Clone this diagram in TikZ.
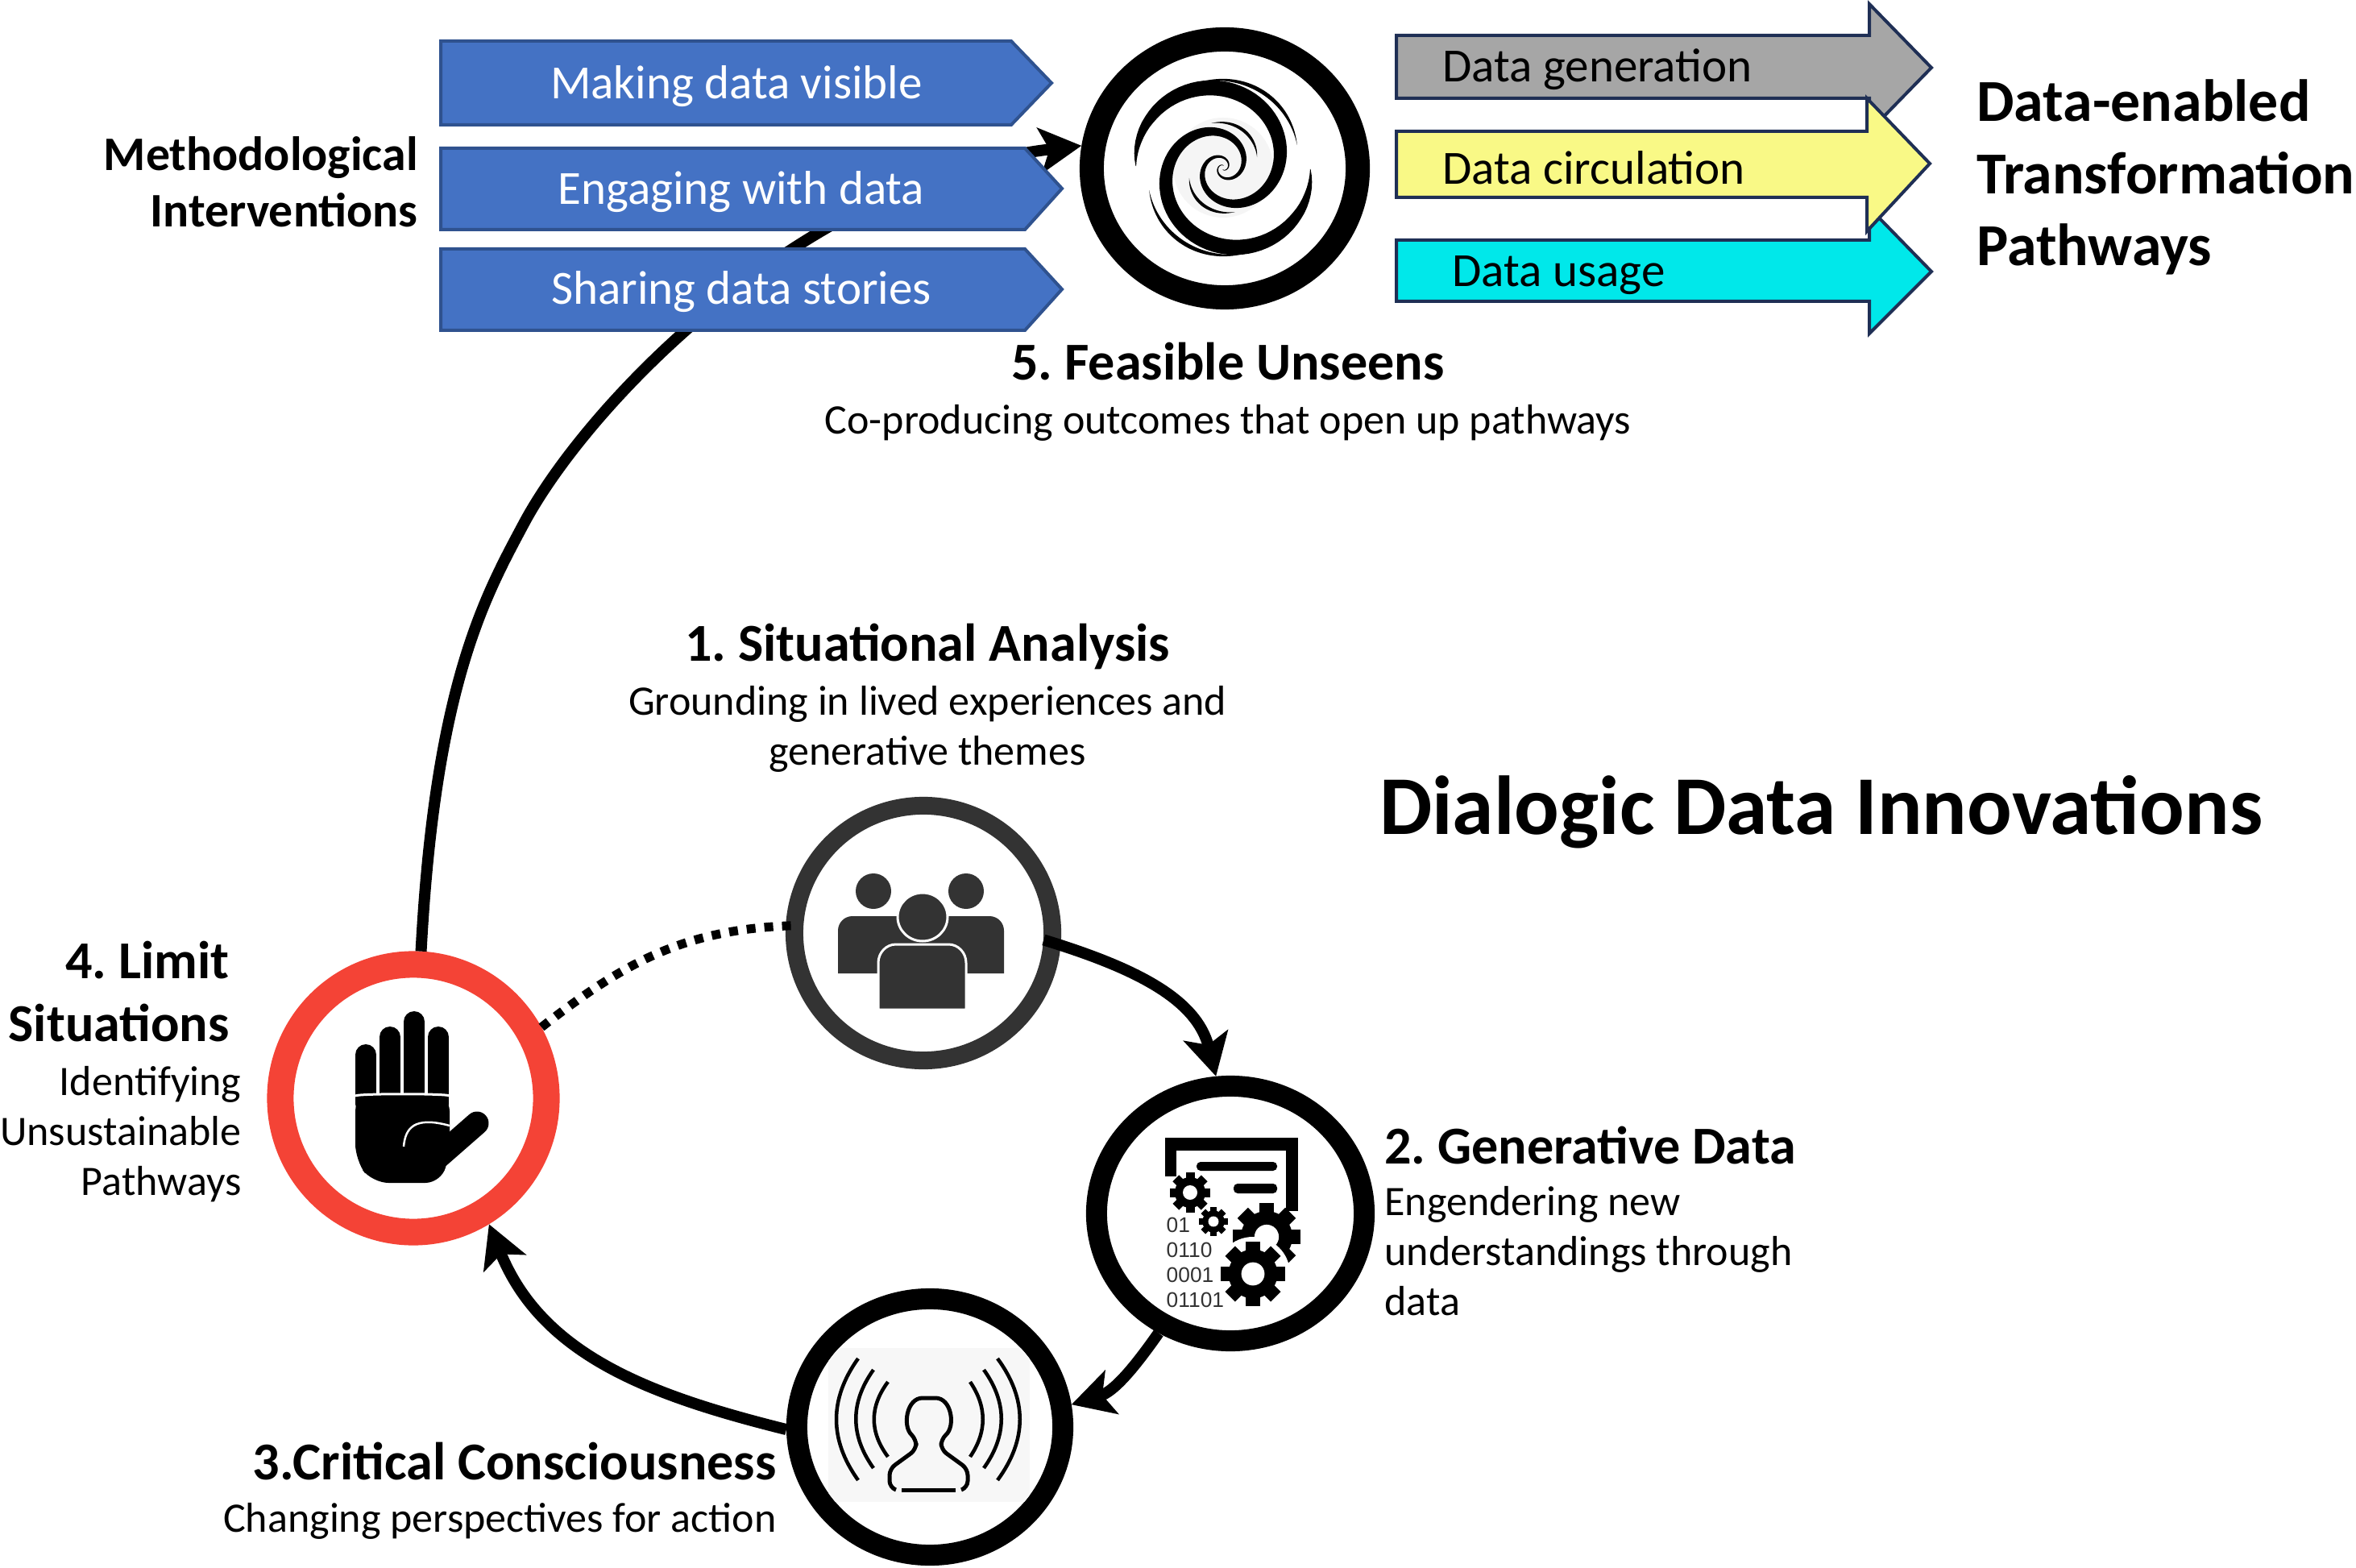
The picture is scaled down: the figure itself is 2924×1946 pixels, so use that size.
\documentclass[tikz,border=0pt]{standalone}
\usepackage{fontspec}
\setmainfont{Carlito}
\newfontfamily\digitfont{Liberation Sans}
\usepackage{tikz}
\usetikzlibrary{shapes,arrows,positioning,calc,arrows.meta}

\definecolor{boxblue}{HTML}{4472C4}
\definecolor{boxedge}{HTML}{2F528F}
\definecolor{navyedge}{HTML}{1F2F55}
\definecolor{headgrey}{HTML}{A6A6A6}
\definecolor{headyellow}{HTML}{F9F986}
\definecolor{headcyan}{HTML}{00E8EA}
\definecolor{stopred}{HTML}{F44336}
\definecolor{peoplegrey}{HTML}{333333}

\tikzset{
    ring/.style={ellipse, draw, line width=0.26cm, fill=white, inner sep=0pt},
    flow/.style={line width=0.14cm, -{Stealth[length=0.52cm,width=0.56cm,inset=0.12cm]}},
    bluebox/.style={fill=boxblue, draw=boxedge, line width=0.04cm},
    pathbox/.style={draw=navyedge, line width=0.04cm},
    bluelabel/.style={text=white, font=\fontsize{16.8}{18}\selectfont},
    pathlabel/.style={anchor=west, font=\fontsize{16.8}{18}\selectfont},
    heading/.style={font=\fontsize{18.8}{20}\selectfont\bfseries},
    detail/.style={font=\fontsize{14.8}{17.6}\selectfont},
    declare function={armr(\t)=108*exp(-pow(\t/260,1.5)); armw(\t)=0.27*armr(\t)*(1-exp(-\t/55));},
}

% x, y, radius of one gear
\newcommand{\drawgear}[3]{
    \foreach \a in {0,45,...,315}
        \fill[shift={(#1,#2)}, rotate=\a] (-0.22*#3,0) rectangle (0.22*#3,#3);
    \fill (#1,#2) circle [radius=0.76*#3];
    \fill[white] (#1,#2) circle [radius=0.36*#3];
}

\begin{document}
\frenchspacing
\begin{tikzpicture}[x=0.01cm, y=-0.01cm]
    \useasboundingbox (0,0) rectangle (2924,1946);

    % Circles
    \node[ring, draw=peoplegrey, line width=0.22cm, minimum width=3.2cm, minimum height=3.16cm] (group) at (1146,1158) {};
    \node[ring, minimum width=3.32cm, minimum height=3.16cm] (data) at (1527,1506) {};
    \node[ring, minimum width=3.3cm, minimum height=3.18cm] (critical) at (1154,1771) {};
    \node[ring, draw=stopred, line width=0.33cm, minimum width=3.3cm, minimum height=3.32cm] (limit) at (513,1363) {};
    \node[ring, line width=0.3cm, minimum width=3.3cm, minimum height=3.2cm] (spiral) at (1520,209) {};

    % Connectors
    \draw[flow, shorten <=-0.22cm] (group.-5) to[out=-17,in=104] (data.96);
    \draw[flow] (data.239) to[out=-125,in=17] (critical.9);
    \draw[flow] (critical.181) to[out=166,in=-68] (limit.-59);
    \draw[line width=0.11cm, dash pattern=on 0.11cm off 0.11cm, shorten >=-0.08cm] (limit.29) to[out=38,in=-178] (group.177);
    \draw[flow] (limit.87) .. controls (540,850) and (602,740) .. (650,650) .. controls (730,500) and (1000,220) .. (spiral.171);

    % Methodological boxes
    \draw[bluebox] (547,51) -- (1255,51) -- (1305,103) -- (1255,155) -- (547,155) -- cycle;
    \draw[bluebox] (547,184) -- (1272,184) -- (1318,234) -- (1272,285) -- (547,285) -- cycle;
    \draw[bluebox] (547,309) -- (1272,309) -- (1318,359) -- (1272,410) -- (547,410) -- cycle;
    \node[bluelabel] (visible) at (914,107) {Making data visible};
    \node[bluelabel] (engaging) at (920,238) {Engaging with data};
    \node[bluelabel] (sharing) at (920,362) {Sharing data stories};
    \node[font=\fontsize{17}{20}\selectfont\bfseries, align=right, anchor=east] (method) at (531,226) {Methodological\\Interventions};

    % Pathway arrows
    \draw[pathbox, fill=headcyan] (1733,298) -- (2320,298) -- (2320,258) -- (2397,337) -- (2320,414) -- (2320,374) -- (1733,374) -- cycle;
    \draw[pathbox, fill=headgrey] (1733,44) -- (2320,44) -- (2320,5) -- (2397,84) -- (2320,163) -- (2320,122) -- (1733,122) -- cycle;
    \draw[pathbox, fill=headyellow] (1733,163) -- (2317,163) -- (2317,122) -- (2395,203) -- (2317,287) -- (2317,245) -- (1733,245) -- cycle;
    \node[pathlabel] (generation) at (1778,86) {Data generation};
    \node[pathlabel] (circulation) at (1778,208) {Data circulation};
    \node[pathlabel] (usage) at (1790,342) {Data usage};
    \node[font=\fontsize{21}{25.5}\selectfont\bfseries, align=left, anchor=west] (pathways) at (2441,220) {Data-enabled\\Transformation\\Pathways};

    % Spiral
    \fill[black!4] (1518,208) circle [radius=62];
    \foreach \o in {0,180} {
        \begin{scope}[shift={(1518,208)}, rotate=\o]
            \fill plot[domain=1:640, samples=160] ({armr(\x)*cos(\x+180)},{armr(\x)*sin(\x+180)})
                -- plot[domain=640:1, samples=160] ({(armr(\x)+armw(\x))*cos(\x+180)},{(armr(\x)+armw(\x))*sin(\x+180)}) -- cycle;
            \foreach \ra/\rb/\wd in {110/96/5, 57/44/4}
                \fill plot[domain=255:343, samples=40] ({(\ra+(\rb-\ra)*(\x-255)/88)*cos(\x)},{(\ra+(\rb-\ra)*(\x-255)/88)*sin(\x)})
                    -- plot[domain=343:255, samples=40] ({(\ra+(\rb-\ra)*(\x-255)/88+\wd*sin(2.045*(\x-255)))*cos(\x)},{(\ra+(\rb-\ra)*(\x-255)/88+\wd*sin(2.045*(\x-255)))*sin(\x)}) -- cycle;
        \end{scope}
    }

    % People
    \begin{scope}[peoplegrey]
        \fill (1084,1106) ellipse [x radius=22, y radius=22];
        \fill (1199,1106) ellipse [x radius=22, y radius=22];
        \fill (1040,1208) -- (1040,1155) to[out=90,in=180] (1058,1137) -- (1228,1137) to[out=0,in=90] (1246,1155) -- (1246,1208) -- cycle;
        \fill[draw=white, line width=0.03cm] (1090,1253) -- (1090,1195) to[out=90,in=180] (1112,1172) -- (1177,1172) to[out=0,in=90] (1199,1195) -- (1199,1253) -- cycle;
        \fill[draw=white, line width=0.03cm] (1145,1138) ellipse [x radius=31, y radius=30];
    \end{scope}

    % Document with gears
    \fill (1446,1412) rectangle (1611,1428);
    \fill (1446,1412) rectangle (1460,1460);
    \fill (1596,1412) rectangle (1611,1503);
    \fill[rounded corners=0.05cm] (1485,1442) rectangle (1585,1453);
    \fill[rounded corners=0.05cm] (1531,1469) rectangle (1585,1481);
    \drawgear{1477}{1480}{25}
    \drawgear{1506}{1516}{18}
    \drawgear{1572}{1535}{42}
    \fill[white] (1555,1581) circle [radius=46];
    \drawgear{1555}{1581}{40}
    \node[font=\digitfont\fontsize{7.5}{8.8}\selectfont, text=peoplegrey, align=left, anchor=west, inner sep=0pt] (binary) at (1447,1567) {01\\0110\\0001\\01101};

    % Person with waves
    \begin{scope}
        \clip (1154,1771) ellipse [x radius=152, y radius=146];
        \fill[black!3] (1028,1673) rectangle (1278,1864);
    \end{scope}
    \foreach \xa/\xb/\ya/\yb in {1065/1029/1686/1837, 1084/1055/1700/1822, 1102/1079/1715/1808, 1238/1275/1686/1837, 1221/1250/1700/1822, 1204/1225/1715/1808}
        \draw[line width=0.045cm] (\xa,\ya) .. controls (\xb,{\ya+(\yb-\ya)/3}) and (\xb,{\yb-(\yb-\ya)/3}) .. (\xa,\yb);
    \draw[line width=0.05cm, rounded corners=0.08cm] (1112,1849) -- (1104,1846) -- (1104,1823) -- (1137,1799) -- (1137,1786) .. controls (1120,1770) and (1125,1735) .. (1153,1735) .. controls (1181,1735) and (1186,1770) .. (1168,1786) -- (1168,1799) -- (1201,1823) -- (1201,1846) -- (1193,1849);
    \draw[line width=0.05cm] (1119,1849) -- (1186,1849);

    % Hand
    \foreach \x/\y in {454/1309, 484/1287, 514/1268, 544/1287}
        \draw[line width=0.26cm, line cap=round] (\x,\y) -- (\x,1370);
    \fill[rounded corners=0.2cm] (441,1359) -- (558,1359) -- (558,1430) -- (548,1468) -- (462,1468) -- (441,1440) -- cycle;
    \draw[line width=0.29cm, line cap=round] (528,1450) -- (592,1394);
    \draw[white, line width=0.03cm] (441,1360) .. controls (445,1357) and (555,1357) .. (558,1360);
    \draw[white, line width=0.025cm] (501,1423) .. controls (503,1400) and (514,1385) .. (558,1397);

    % Headings and captions
    \node[heading] (unseens) at (1524,449) {5. Feasible Unseens};
    \node[detail] (unseenstext) at (1524,525) {Co-producing outcomes that open up pathways};
    \node[heading] (situational) at (1151,802) {1. Situational Analysis};
    \node[detail, align=center] (situationaltext) at (1151,905) {Grounding in lived experiences and\\generative themes};
    \node[heading, anchor=west] (generative) at (1706,1421) {2. Generative Data};
    \node[detail, align=left, anchor=west] (generativetext) at (1706,1553) {Engendering new\\understandings through\\data};
    \node[heading, anchor=east] (consciousness) at (976,1813) {3.Critical Consciousness};
    \node[detail, anchor=east] (consciousnesstext) at (976,1888) {Changing perspectives for action};
    \node[heading, align=right, anchor=east, font=\fontsize{18.8}{22.2}\selectfont\bfseries] (situations) at (297,1231) {4. Limit\\Situations};
    \node[detail, align=right, anchor=east] (situationstext) at (312,1408) {Identifying\\Unsustainable\\Pathways};
    \node[font=\fontsize{29.5}{30}\selectfont\bfseries] (title) at (2260,1008) {Dialogic Data Innovations};
\end{tikzpicture}
\end{document}
